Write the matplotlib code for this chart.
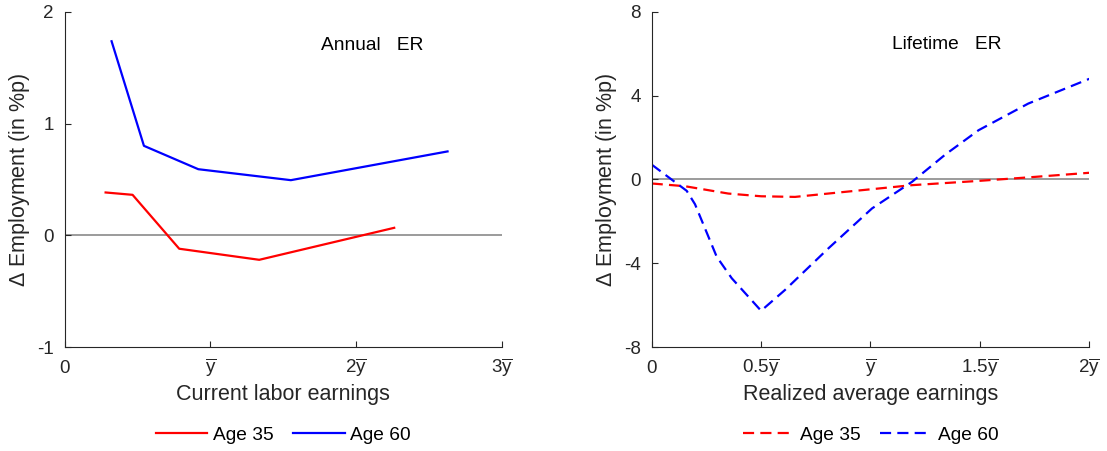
import matplotlib
matplotlib.use('Agg')
import matplotlib.pyplot as plt

plt.rcParams['font.family'] = ['Liberation Sans', 'DejaVu Sans']
plt.rcParams['mathtext.fontset'] = 'custom'
plt.rcParams['mathtext.rm'] = 'Liberation Sans'
plt.rcParams['mathtext.it'] = 'Liberation Sans'
plt.rcParams['axes.unicode_minus'] = False

# left panel: annual ER, x in units of average earnings
annual_x35 = [0.281, 0.466, 0.786, 1.335, 2.261]
annual_y35 = [0.384, 0.363, -0.119, -0.218, 0.068]
annual_x60 = [0.322, 0.544, 0.917, 1.552, 2.627]
annual_y60 = [1.736, 0.801, 0.592, 0.494, 0.751]

# right panel: lifetime ER
life_x35 = [0.0, 0.152, 0.35, 0.5, 0.655, 0.883, 1.19, 1.49, 1.72, 2.0]
life_y35 = [-0.19, -0.32, -0.67, -0.80, -0.83, -0.59, -0.27, -0.07, 0.10, 0.32]
life_x60 = [0.0, 0.16, 0.198, 0.297, 0.366, 0.5, 0.609, 0.807, 1.007, 1.19,
            1.342, 1.494, 1.721, 2.0]
life_y60 = [0.71, -0.54, -1.18, -3.68, -4.71, -6.26, -5.27, -3.29, -1.38, -0.11,
            1.19, 2.35, 3.62, 4.80]

ybar = r'$\overline{\mathrm{y}}$'
left_ticks = [0, 1, 2, 3]
left_ticklabels = ['0', ybar, '2' + ybar, '3' + ybar]
right_ticks = [0, 0.5, 1, 1.5, 2]
right_ticklabels = ['0', '0.5' + ybar, ybar, '1.5' + ybar, '2' + ybar]

fig = plt.figure(figsize=(11.07, 4.51), dpi=100)
ax1 = fig.add_axes([0.0584, 0.23, 0.395, 0.744])
ax2 = fig.add_axes([0.5887, 0.23, 0.3953, 0.744])

dash = (5, 2.8)

ax1.axhline(0, color='0.5', lw=1.1, zorder=1)
ax1.plot(annual_x35, annual_y35, color='red', lw=1.6, label='Age 35')
ax1.plot(annual_x60, annual_y60, color='blue', lw=1.6, label='Age 60')
ax1.set_xlim(0, 3)
ax1.set_ylim(-1, 2)
ax1.set_yticks([-1, 0, 1, 2])
ax1.set_xticks(left_ticks)
ax1.set_xticklabels(left_ticklabels)
ax1.set_xlabel('Current labor earnings', fontsize=15.5, color='0.15')
ax1.text(1.76, 1.70, 'Annual   ER', fontsize=13.8, va='center')

ax2.axhline(0, color='0.5', lw=1.1, zorder=1)
ax2.plot(life_x35, life_y35, color='red', lw=1.6, dashes=dash, label='Age 35')
ax2.plot(life_x60, life_y60, color='blue', lw=1.6, dashes=dash, label='Age 60')
ax2.set_xlim(0, 2)
ax2.set_ylim(-8, 8)
ax2.set_yticks([-8, -4, 0, 4, 8])
ax2.set_xticks(right_ticks)
ax2.set_xticklabels(right_ticklabels)
ax2.set_xlabel('Realized average earnings', fontsize=15.5, color='0.15')
ax2.text(1.10, 6.44, 'Lifetime   ER', fontsize=13.8, va='center')

for ax in (ax1, ax2):
    ax.spines['top'].set_visible(False)
    ax.spines['right'].set_visible(False)
    for s in ('left', 'bottom'):
        ax.spines[s].set_color('0.15')
        ax.spines[s].set_linewidth(0.8)
    ax.tick_params(direction='in', length=4, width=0.8, labelsize=13.5, colors='0.15')
    ax.tick_params(axis='y', pad=8)
    ax.tick_params(axis='x', pad=18.5)
    for lbl in ax.get_xticklabels():
        lbl.set_verticalalignment('baseline')
    ax.set_ylabel(r'$\Delta$ Employment (in %p)', fontsize=15.5, color='0.15')
    ax.yaxis.set_label_coords(-0.075, 0.5)
    ax.xaxis.set_label_coords(0.5, -0.108)
    ax.legend(loc='center', bbox_to_anchor=(0.5, -0.262), ncol=2, frameon=False,
              fontsize=13.8, handlelength=2.7, columnspacing=1.0, handletextpad=0.3)

fig.savefig('out.png', dpi=100)
